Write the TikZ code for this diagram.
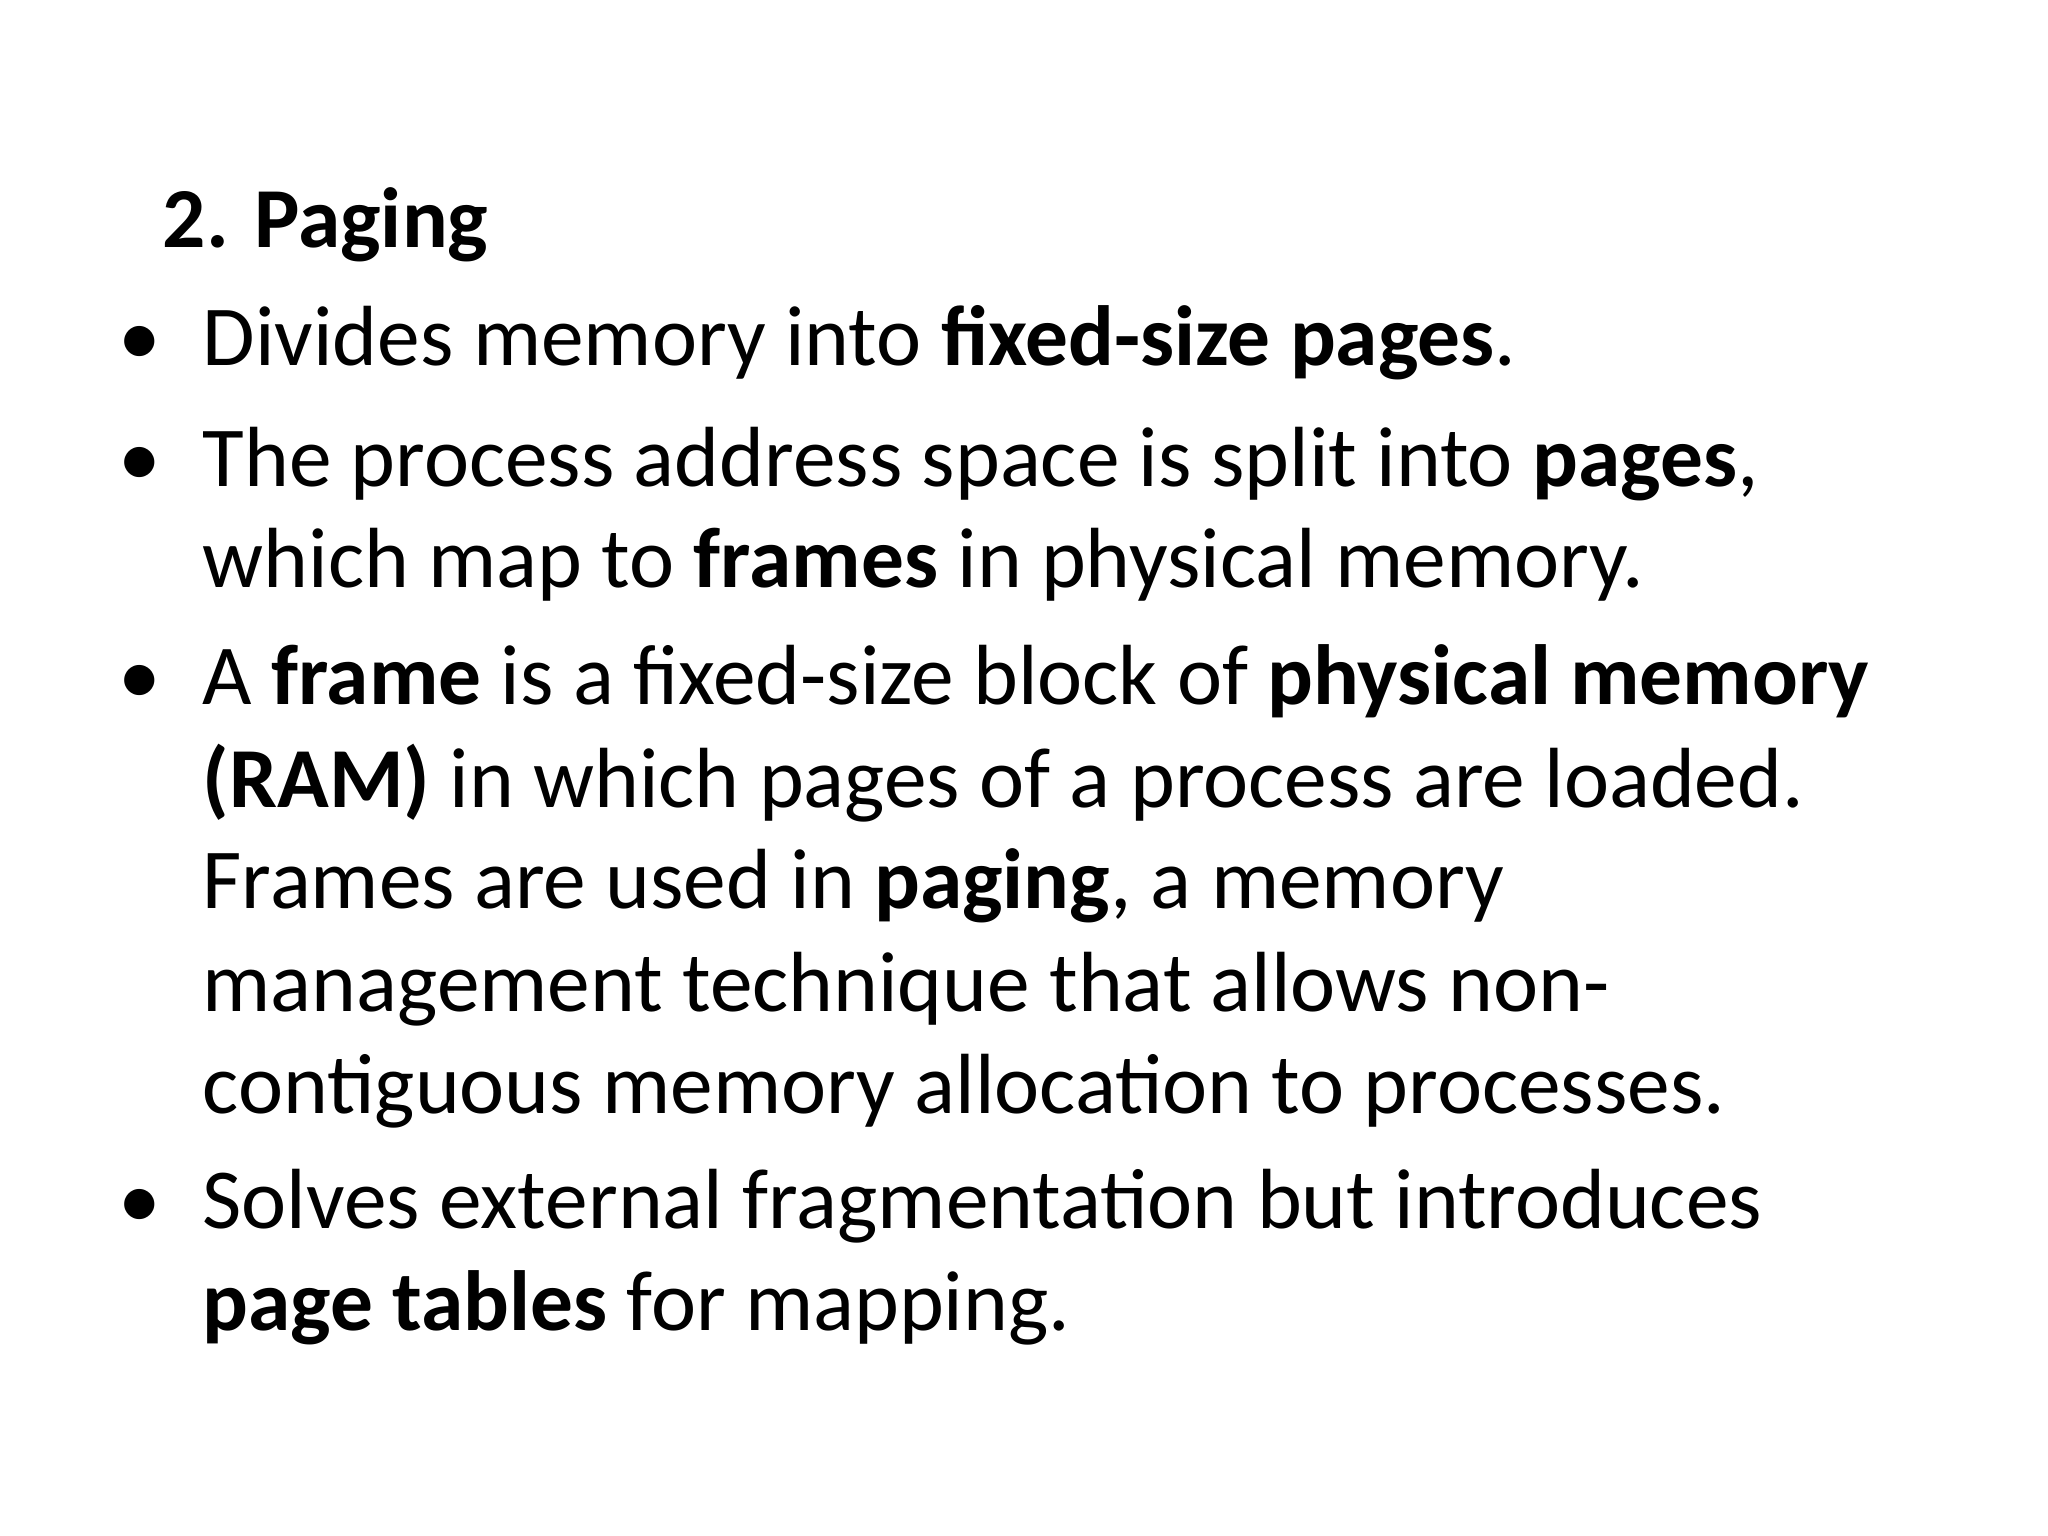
\documentclass[tikz,border=0pt]{standalone}
\usepackage{fontspec}
\setmainfont{Carlito}
\begin{document}
\begin{tikzpicture}[x=1cm,y=1cm,
  ln/.style={anchor=base west,inner sep=0pt,font=\fontsize{24.3}{29}\selectfont}]
\fill[white] (0,0) rectangle (20.48,-15.36);
\useasboundingbox (0,0) rectangle (20.48,-15.36);
\node[ln] (t) at (1.62,-2.48) {\textbf{2. Paging}};
\node[ln] (b1) at (1.18,-3.66) {•};
\node[ln] (l1) at (2.02,-3.66) {Divides memory into \textbf{fixed-size pages}.};
\node[ln] (b2) at (1.18,-4.86) {•};
\node[ln] (l2) at (2.02,-4.86) {The process address space is split into \textbf{pages},};
\node[ln] (l3) at (2.02,-5.88) {which map to \textbf{frames} in physical memory.};
\node[ln] (b3) at (1.18,-7.05) {•};
\node[ln] (l4) at (2.02,-7.05) {A \textbf{frame} is a fixed-size block of \textbf{physical memory}};
\node[ln] (l5) at (2.02,-8.07) {\textbf{(RAM)} in which pages of a process are loaded.};
\node[ln] (l6) at (2.02,-9.09) {Frames are used in \textbf{paging}, a memory};
\node[ln] (l7) at (2.02,-10.11) {management technique that allows non-};
\node[ln] (l8) at (2.02,-11.13) {contiguous memory allocation to processes.};
\node[ln] (b4) at (1.18,-12.28) {•};
\node[ln] (l9) at (2.02,-12.28) {Solves external fragmentation but introduces};
\node[ln] (l10) at (2.02,-13.30) {\textbf{page tables} for mapping.};
\end{tikzpicture}
\end{document}
